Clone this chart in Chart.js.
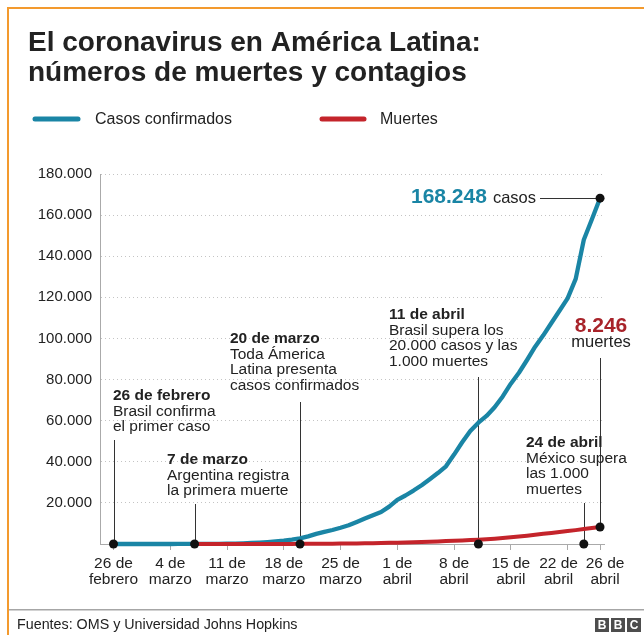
<!DOCTYPE html>
<html lang="es">
<head>
<meta charset="utf-8">
<title>El coronavirus en América Latina</title>
<script src="https://cdn.jsdelivr.net/npm/chart.js@4.4.1/dist/chart.umd.min.js"></script>
<style>
  html, body { margin: 0; padding: 0; background: #fff; }
  canvas { display: block; }
</style>
</head>
<body>
<canvas id="chart" width="644" height="635"></canvas>
<script>
// Days since 26 February 2020
const days = [
  0, 1, 2, 3, 4, 5, 6, 7, 8, 9,
  10, 11, 12, 13, 14, 15, 16, 17, 18, 19,
  20, 21, 22, 23, 24, 25, 26, 27, 28, 29,
  30, 31, 32, 33, 34, 35, 36, 37, 38, 39,
  40, 41, 42, 43, 44, 45, 46, 47, 48, 49,
  50, 51, 52, 53, 54, 55, 56, 57, 58, 59,
  60
];

// Cumulative confirmed cases in Latin America
const cases = [
  1, 1, 1, 2, 2, 4, 8, 11, 18, 25,
  33, 50, 70, 105, 160, 230, 330, 480, 680, 930,
  1250, 1600, 2100, 2700, 3700, 4900, 5900, 6800, 7900, 9100,
  10700, 12400, 14000, 15600, 18200, 21500, 23600, 26000, 28600, 31500,
  34500, 37800, 43500, 49500, 55000, 59000, 62300, 66500, 71800, 78000,
  83300, 89500, 96000, 101500, 107500, 113500, 119500, 129000, 148000, 158000,
  168248
];

// Cumulative deaths (first death on 7 March)
const deaths = [
  null, null, null, null, null, null, null, null, null, null,
  1, 1, 2, 3, 5, 7, 9, 13, 20, 27,
  35, 44, 55, 68, 85, 105, 130, 160, 195, 240,
  290, 350, 410, 480, 560, 660, 760, 880, 1000, 1130,
  1270, 1420, 1580, 1750, 1930, 2120, 2350, 2600, 2900, 3250,
  3650, 4050, 4500, 4950, 5400, 5850, 6300, 6750, 7250, 7750,
  8246
];

const seriesNames = ['Casos confirmados', 'Muertes'];

const xTickDays = [0, 7, 14, 21, 28, 35, 42, 49, 56, 60];
const xTickLabels = [
  ['26 de', 'febrero'], ['4 de', 'marzo'], ['11 de', 'marzo'], ['18 de', 'marzo'],
  ['25 de', 'marzo'], ['1 de', 'abril'], ['8 de', 'abril'], ['15 de', 'abril'],
  ['22 de', 'abril'], ['26 de', 'abril']
];

const yTickValues = [0, 20000, 40000, 60000, 80000, 100000, 120000, 140000, 160000, 180000];
const yTickLabels = ['', '20.000', '40.000', '60.000', '80.000', '100.000', '120.000', '140.000', '160.000', '180.000'];

// Key moments of the outbreak
const eventDays = [0, 10, 23, 45, 58];
const eventTitles = ['26 de febrero', '7 de marzo', '20 de marzo', '11 de abril', '24 de abril'];
const eventNotes = [
  ['Brasil confirma', 'el primer caso'],
  ['Argentina registra', 'la primera muerte'],
  ['Toda Ámerica', 'Latina presenta', 'casos confirmados'],
  ['Brasil supera los', '20.000 casos y las', '1.000 muertes'],
  ['México supera', 'las 1.000', 'muertes']
];

const TEAL = '#1a85a5';
const RED = '#c4242b';
const DARK_RED = '#a8232a';
const INK = '#222222';
const FONT = "'Liberation Sans', Arial, Helvetica, sans-serif";

Chart.defaults.font.family = FONT;
Chart.defaults.color = INK;

const fmt = n => String(n).replace(/\B(?=(\d{3})+(?!\d))/g, '.');

// Where each note block sits: text left edge, first baseline, top of its leader line
const noteLayout = [
  { x: 113, y: 400, top: 440 },
  { x: 167, y: 464, top: 504 },
  { x: 230, y: 343, top: 402 },
  { x: 389, y: 319, top: 377 },
  { x: 526, y: 447, top: 503 }
];

// Horizontal nudges for the two crowded last date labels
const xLabelNudge = { 8: -9, 9: 5 };

const decor = {
  id: 'decor',
  beforeDraw(chart) {
    const xs = chart.scales.x;
    const items = xs.getLabelItems(chart.chartArea);
    Object.keys(xLabelNudge).forEach(k => {
      const it = items[+k];
      if (it && it.options && it.options.translation) it.options.translation[0] += xLabelNudge[k];
    });
  },
  beforeDatasetsDraw(chart) {
    const { ctx, scales: { x, y } } = chart;
    ctx.save();
    ctx.strokeStyle = '#333';
    ctx.lineWidth = 1;
    const y0 = y.getPixelForValue(0);
    eventDays.forEach((d, i) => {
      const px = Math.round(x.getPixelForValue(d)) + 0.5;
      ctx.beginPath();
      ctx.moveTo(px, noteLayout[i].top);
      ctx.lineTo(px, y0);
      ctx.stroke();
    });
    const last = days.length - 1;
    // leader to the last cases value
    const cx = x.getPixelForValue(days[last]);
    const cy = y.getPixelForValue(cases[last]);
    ctx.beginPath();
    ctx.moveTo(540, Math.round(cy) + 0.5);
    ctx.lineTo(cx, Math.round(cy) + 0.5);
    ctx.stroke();
    // leader to the last deaths value
    const dx = Math.round(x.getPixelForValue(days[last])) + 0.5;
    const dy = y.getPixelForValue(deaths[last]);
    ctx.beginPath();
    ctx.moveTo(dx, 358);
    ctx.lineTo(dx, dy);
    ctx.stroke();
    ctx.restore();
  },
  afterDraw(chart) {
    const { ctx, scales: { x, y } } = chart;
    ctx.save();

    // title
    ctx.fillStyle = INK;
    ctx.textAlign = 'left';
    ctx.textBaseline = 'alphabetic';
    ctx.font = 'bold 28px ' + FONT;
    ctx.fillText('El coronavirus en América Latina:', 28, 51);
    ctx.fillText('números de muertes y contagios', 28, 81);

    // legend
    ctx.lineCap = 'round';
    ctx.lineWidth = 5;
    ctx.strokeStyle = TEAL;
    ctx.beginPath(); ctx.moveTo(35, 119); ctx.lineTo(78, 119); ctx.stroke();
    ctx.strokeStyle = RED;
    ctx.beginPath(); ctx.moveTo(322, 119); ctx.lineTo(364, 119); ctx.stroke();
    ctx.font = '16px ' + FONT;
    ctx.textBaseline = 'middle';
    ctx.fillStyle = INK;
    ctx.fillText(seriesNames[0], 95, 120);
    ctx.fillText(seriesNames[1], 380, 120);

    // notes
    ctx.textBaseline = 'alphabetic';
    eventTitles.forEach((t, i) => {
      const L = noteLayout[i];
      ctx.font = 'bold 15.5px ' + FONT;
      ctx.fillText(t, L.x, L.y);
      ctx.font = '15.5px ' + FONT;
      eventNotes[i].forEach((line, j) => ctx.fillText(line, L.x, L.y + 15.7 * (j + 1)));
    });

    // end value of cases
    const last = days.length - 1;
    const cy = y.getPixelForValue(cases[last]);
    ctx.textAlign = 'right';
    ctx.font = '16.5px ' + FONT;
    ctx.fillStyle = INK;
    ctx.fillText('casos', 536, cy + 5);
    const wCasos = ctx.measureText('casos').width;
    ctx.font = 'bold 21px ' + FONT;
    ctx.fillStyle = TEAL;
    ctx.fillText(fmt(cases[last]), 536 - wCasos - 6, cy + 5);

    // end value of deaths
    const dx = x.getPixelForValue(days[last]) + 1;
    ctx.textAlign = 'center';
    ctx.font = 'bold 21px ' + FONT;
    ctx.fillStyle = DARK_RED;
    ctx.fillText(fmt(deaths[last]), dx, 332);
    ctx.font = '16.5px ' + FONT;
    ctx.fillStyle = INK;
    ctx.fillText('muertes', dx, 347);

    // footer
    ctx.fillStyle = '#a6a6a6';
    ctx.fillRect(9, 609, 635, 1.5);
    ctx.textAlign = 'left';
    ctx.textBaseline = 'middle';
    ctx.fillStyle = INK;
    ctx.font = '14.3px ' + FONT;
    ctx.fillText('Fuentes: OMS y Universidad Johns Hopkins', 17, 625);

    // logo
    ['B', 'B', 'C'].forEach((ch, i) => {
      const bx = 595 + i * 16;
      ctx.fillStyle = '#4d4d4d';
      ctx.fillRect(bx, 618, 14, 14);
      ctx.fillStyle = '#fff';
      ctx.font = 'bold 12px ' + FONT;
      ctx.textAlign = 'center';
      ctx.fillText(ch, bx + 7, 625.5);
    });

    // frame
    ctx.fillStyle = '#f39a2e';
    ctx.fillRect(7, 7, 637, 2);
    ctx.fillRect(7, 7, 2, 628);

    ctx.restore();
  }
};

const lastIdx = days.length - 1;

new Chart(document.getElementById('chart'), {
  type: 'line',
  data: {
    datasets: [
      {
        type: 'scatter',
        label: 'eventos',
        data: eventDays.map(d => ({ x: d, y: 0 })),
        pointRadius: 4.5,
        pointBackgroundColor: '#111',
        pointBorderWidth: 0,
        clip: false,
        order: 0
      },
      {
        label: seriesNames[1],
        data: days.map((d, i) => ({ x: d, y: deaths[i] })),
        borderColor: RED,
        borderWidth: 4,
        borderCapStyle: 'round',
        borderJoinStyle: 'round',
        tension: 0,
        pointRadius: c => (c.dataIndex === lastIdx ? 4.5 : 0),
        pointBackgroundColor: '#111',
        pointBorderWidth: 0,
        clip: false,
        order: 1
      },
      {
        label: seriesNames[0],
        data: days.map((d, i) => ({ x: d, y: cases[i] })),
        borderColor: TEAL,
        borderWidth: 4.3,
        borderCapStyle: 'round',
        borderJoinStyle: 'round',
        tension: 0,
        pointRadius: c => (c.dataIndex === lastIdx ? 4.5 : 0),
        pointBackgroundColor: '#111',
        pointBorderWidth: 0,
        clip: false,
        order: 2
      }
    ]
  },
  options: {
    responsive: false,
    animation: false,
    events: [],
    layout: { padding: { top: 174, right: 40, left: 0, bottom: 0 } },
    plugins: { legend: { display: false }, tooltip: { enabled: false }, title: { display: false } },
    scales: {
      x: {
        type: 'linear',
        min: -1.665,
        max: 60.49,
        afterBuildTicks: s => { s.ticks = xTickDays.map(v => ({ value: v })); },
        afterFit: s => { s.height = 91; },
        ticks: {
          autoSkip: false,
          maxRotation: 0,
          padding: 5,
          color: INK,
          font: { size: 15.5, lineHeight: 1.08 },
          callback: (v, i) => xTickLabels[i]
        },
        grid: { drawOnChartArea: false, drawTicks: true, tickLength: 6, color: '#aaaaaa' },
        border: { display: true, color: '#aaaaaa', width: 1 }
      },
      y: {
        min: 0,
        max: 180000,
        afterBuildTicks: s => { s.ticks = yTickValues.map(v => ({ value: v })); },
        afterFit: s => { s.width = 100; },
        ticks: {
          padding: 8,
          color: INK,
          font: { size: 15 },
          callback: (v, i) => yTickLabels[i]
        },
        grid: {
          drawTicks: false,
          color: c => (c.tick && c.tick.value === 0 ? 'rgba(0,0,0,0)' : '#c4c4c4')
        },
        border: { display: true, color: '#aaaaaa', width: 1, dash: [1, 3] }
      }
    }
  },
  plugins: [decor]
});
</script>
</body>
</html>
